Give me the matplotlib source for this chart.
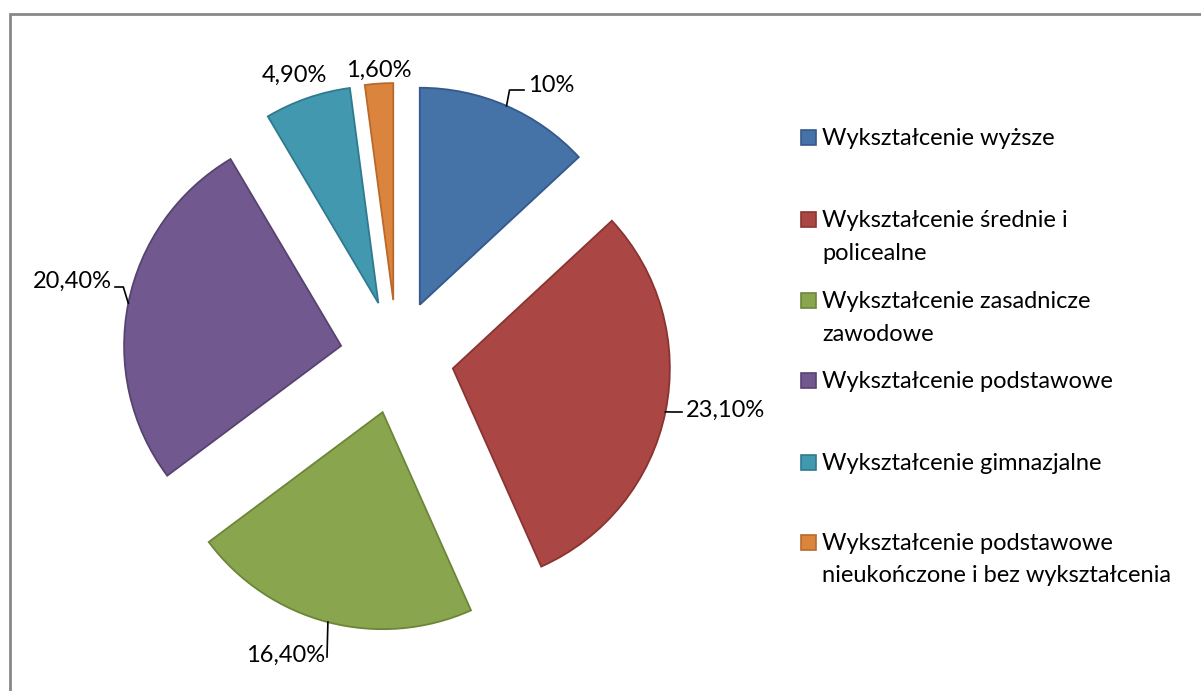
import numpy as np
import matplotlib
matplotlib.use("Agg")
import matplotlib.pyplot as plt
from matplotlib.patches import Rectangle

categories = ["Wykształcenie wyższe",
              "Wykształcenie średnie i\npolicealne",
              "Wykształcenie zasadnicze\nzawodowe",
              "Wykształcenie podstawowe",
              "Wykształcenie gimnazjalne",
              "Wykształcenie podstawowe\nnieukończone i bez wykształcenia"]
values = [10.0, 23.1, 16.4, 20.4, 4.9, 1.6]
value_labels = ["10%", "23,10%", "16,40%", "20,40%", "4,90%", "1,60%"]
colors = ["#4572A7", "#AA4643", "#89A54E", "#71588F", "#4198AF", "#DB843D"]
edges = ["#35598a", "#8a3431", "#6c8639", "#574370", "#2f7a8e", "#b8692b"]

plt.rcParams['font.family'] = ['Lato', 'DejaVu Sans']

W, H = 1201, 691
fig = plt.figure(figsize=(W / 100, H / 100), dpi=100)
ax = fig.add_axes([0, 0, 1, 1])

# chart frame
fig.patches.append(Rectangle((9.5 / W, -0.1), 1.2, (H - 13.5) / H + 0.1,
                             transform=fig.transFigure, fill=False,
                             edgecolor="#888888", linewidth=2))

cx, cy, R = 397, H - 357, 217
expl = 57  # explode offset in axis units (pixels)
wedges, _ = ax.pie(values, colors=colors, startangle=90, counterclock=False,
                   center=(cx, cy), radius=R, explode=[expl] * len(values),
                   wedgeprops=dict(linewidth=1.3), frame=True)
for w, e in zip(wedges, edges):
    w.set_edgecolor(e)
ax.set_xlim(0, W)
ax.set_ylim(0, H)
ax.set_aspect('equal')
ax.axis('off')

FS = 17
label_specs = [
    dict(pos=(528, 85), ha='left', leader='up_right'),
    dict(pos=(686, 410), ha='left', leader='right'),
    dict(pos=(325, 655), ha='right', leader='straight'),
    dict(pos=(112, 281), ha='right', leader='left'),
    dict(pos=(294, 75), ha='center', leader=None),
    dict(pos=(379, 70), ha='center', leader=None),
]
for w, lab, spec in zip(wedges, value_labels, label_specs):
    th = np.deg2rad((w.theta1 + w.theta2) / 2)
    ccx, ccy = w.center
    ap = np.array([ccx + R * np.cos(th), ccy + R * np.sin(th)])
    tx, ty = spec['pos'][0], H - spec['pos'][1]
    ax.text(tx, ty, lab, ha=spec['ha'], va='center', fontsize=FS, color='black')
    kind = spec['leader']
    if kind == 'up_right':
        pts = [ap, (ap[0] + 3, ty - 5), (tx - 4, ty - 5)]
    elif kind == 'right':
        pts = [ap, (ap[0] + 7, ty - 2), (tx - 4, ty - 2)]
    elif kind == 'left':
        pts = [ap, (ap[0] - 5, ty - 6), (tx + 3, ty - 6)]
    elif kind == 'straight':
        pts = [ap, (tx + 2, ty - 2)]
    else:
        pts = None
    if pts is not None:
        pts = np.array(pts)
        ax.plot(pts[:, 0], pts[:, 1], color='black', linewidth=1.2)

# legend
leg_y = [138, 220, 301, 381, 463, 543]
line_gap = 33
for lab, c, e, y in zip(categories, colors, edges, leg_y):
    yy = H - y
    ax.add_patch(Rectangle((801, yy - 7), 15, 15, facecolor=c, edgecolor=e, linewidth=1.2))
    for k, line in enumerate(lab.split('\n')):
        ax.text(822, yy - k * line_gap, line, ha='left', va='center',
                fontsize=FS, color='black')

fig.savefig("out.png", dpi=100, facecolor='white')
